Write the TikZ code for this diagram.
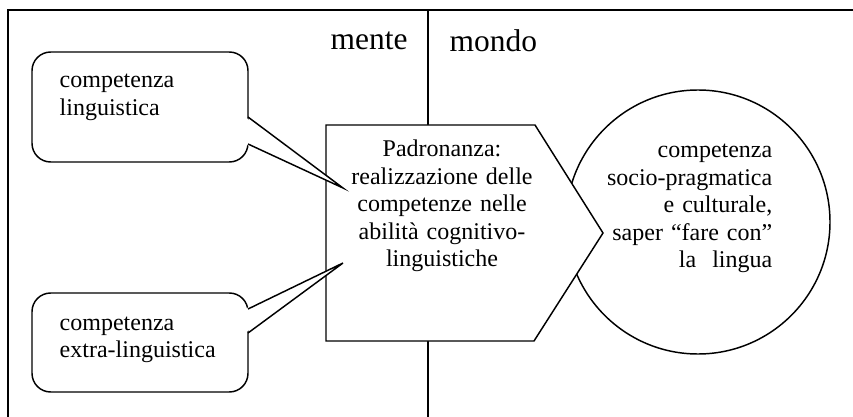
\documentclass[tikz,border=0pt]{standalone}
\usepackage{fontspec}
\setmainfont{Liberation Serif}
\begin{document}
\begin{tikzpicture}[x=0.75pt,y=-0.75pt,
  line width=1.1pt,
  body/.style={font=\fontsize{18}{20.6}\selectfont, inner sep=0pt},
  big/.style={font=\fontsize{23.6}{26}\selectfont, inner sep=0pt},
  bubble/.style={draw, fill=white, rounded corners=14pt, minimum width=162pt, inner sep=0pt},
]
\useasboundingbox (0,0) rectangle (853,417);
% frame and divider
\coordinate (fbl) at (8,417);
\coordinate (ftl) at (8,10);
\coordinate (ftr) at (853,10);
\coordinate (dtop) at (428,10);
\coordinate (dbot) at (428,417);
\draw (fbl) -- (ftl) -- (ftr);
\draw (dtop) -- (dbot);
\node[big, anchor=base west] (mente) at (330,50) {mente};
\node[big, anchor=base west] (mondo) at (449,52) {mondo};
% circle
\node[draw, circle, minimum size=198pt, inner sep=0pt] (world) at (698,222) {};
\node[body, anchor=base east, text width=160pt, align=right] (worldtxt) at (773,158)
  {competenza\\ socio-pragmatica\\ e culturale,\\ saper “fare con”\\ la\ \ lingua};
% pentagon
\coordinate (pa) at (326,125);
\coordinate (pb) at (535,125);
\coordinate (pc) at (603,233);
\coordinate (pd) at (534,341);
\coordinate (pe) at (326,341);
\filldraw[fill=white, line join=miter] (pa) -- (pb) -- (pc) -- (pd) -- (pe) -- cycle;
\node[body, anchor=base, text width=150pt, align=center] (padr) at (442,157)
  {Padronanza:\\ realizzazione delle\\ competenze nelle\\ abilità cognitivo-\\ linguistiche};
% callout 1
\node[bubble, minimum height=82.5pt] (c1) at (140,107) {};
\coordinate (c1a) at (248,117);
\coordinate (c1b) at (248,144);
\coordinate (c1i) at (245,117);
\coordinate (c1j) at (245,144);
\coordinate (t1) at (343,188);
\fill[white] (c1i) -- (t1) -- (c1j) -- cycle;
\draw[line join=miter] (c1a) -- (t1) -- (c1b);
\node[body, anchor=base west, text width=135pt, align=left] (c1t) at (59,88)
  {competenza\\ linguistica};
% callout 2
\node[bubble, minimum height=74.25pt] (c2) at (140,342.5) {};
\coordinate (c2a) at (248,309);
\coordinate (c2b) at (248,333);
\coordinate (c2i) at (245,309);
\coordinate (c2j) at (245,333);
\coordinate (t2) at (343,263);
\fill[white] (c2i) -- (t2) -- (c2j) -- cycle;
\draw[line join=miter] (c2a) -- (t2) -- (c2b);
\node[body, anchor=base west, text width=135pt, align=left] (c2t) at (59,330)
  {competenza\\ extra-linguistica};
\end{tikzpicture}
\end{document}
